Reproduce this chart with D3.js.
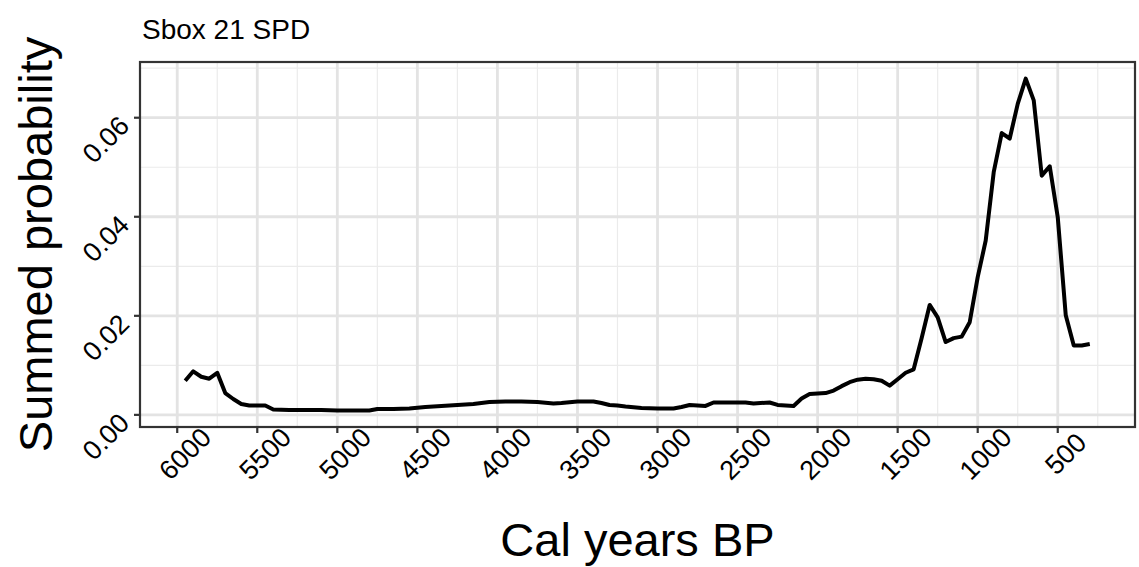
<!DOCTYPE html>
<html>
<head>
<meta charset="utf-8">
<script src="https://cdn.jsdelivr.net/npm/d3@7"></script>
<style>
  html, body { margin: 0; padding: 0; background: #ffffff; }
  svg { display: block; font-family: "Liberation Sans", Arial, sans-serif; }
</style>
</head>
<body>
<svg id="chart" width="1139" height="567"></svg>
<script>
// Summed probability distribution (calibrated years BP)
const years = [5950, 5900, 5850, 5800, 5750, 5700, 5650, 5600, 5550, 5500, 5450, 5400,
  5300, 5200, 5100, 5000, 4900, 4800, 4750, 4650, 4550, 4450, 4350, 4250, 4150, 4050,
  3950, 3850, 3750, 3650, 3600, 3500, 3400, 3350, 3300, 3250, 3200, 3100, 3000, 2900,
  2850, 2800, 2750, 2700, 2650, 2550, 2450, 2400, 2300, 2250, 2200, 2150, 2100, 2050,
  2000, 1950, 1900, 1850, 1800, 1750, 1700, 1650, 1600, 1550, 1500, 1450, 1400, 1350,
  1300, 1250, 1200, 1150, 1100, 1050, 1000, 950, 900, 850, 800, 750, 700, 650, 600,
  550, 500, 450, 400, 350, 300];
const probs = [0.0069, 0.0088, 0.0077, 0.0073, 0.0085, 0.0044, 0.0032, 0.0022, 0.0019,
  0.0019, 0.0019, 0.0011, 0.0010, 0.0010, 0.0010, 0.0009, 0.0009, 0.0009, 0.0012, 0.0012,
  0.0013, 0.0016, 0.0018, 0.0020, 0.0022, 0.0026, 0.0027, 0.0027, 0.0026, 0.0023, 0.0024,
  0.0027, 0.0027, 0.0024, 0.0020, 0.0019, 0.0017, 0.0014, 0.0013, 0.0013, 0.0016, 0.0020,
  0.0019, 0.0018, 0.0025, 0.0025, 0.0025, 0.0023, 0.0025, 0.0020, 0.0019, 0.0018, 0.0033,
  0.0042, 0.0043, 0.0044, 0.0049, 0.0058, 0.0066, 0.0071, 0.0073, 0.0072, 0.0069, 0.0059,
  0.0072, 0.0085, 0.0092, 0.0155, 0.0222, 0.0197, 0.0147, 0.0155, 0.0158, 0.0187, 0.0278,
  0.0352, 0.0490, 0.0569, 0.0558, 0.0628, 0.0679, 0.0635, 0.0483, 0.0502, 0.0399, 0.0201,
  0.0140, 0.0140, 0.0143];

const xTicks = [6000, 5500, 5000, 4500, 4000, 3500, 3000, 2500, 2000, 1500, 1000, 500];
const xMinor = [5750, 5250, 4750, 4250, 3750, 3250, 2750, 2250, 1750, 1250, 750, 250, 0];
const yTicks = [0.00, 0.02, 0.04, 0.06];
const yMinor = [0.01, 0.03, 0.05, 0.07];

const titleText = "Sbox 21 SPD";
const xTitle = "Cal years BP";
const yTitle = "Summed probability";

const W = 1139, H = 567;
const panel = { left: 140, right: 1135, top: 62, bottom: 427 };

const svg = d3.select("#chart");
svg.append("rect").attr("width", W).attr("height", H).attr("fill", "#ffffff");

// 5% padding on both axes, x reversed (older on the left)
const xExt = d3.extent(years), yExt = d3.extent(probs);
const xPad = (xExt[1] - xExt[0]) * 0.05, yPad = (yExt[1] - yExt[0]) * 0.05;
const x = d3.scaleLinear()
  .domain([xExt[1] + xPad, xExt[0] - xPad])
  .range([panel.left, panel.right]);
const y = d3.scaleLinear()
  .domain([yExt[0] - yPad, yExt[1] + yPad])
  .range([panel.bottom, panel.top]);

const g = svg.append("g");

// grid
const grid = g.append("g");
grid.selectAll(".xminor").data(xMinor.filter(v => x(v) > panel.left && x(v) < panel.right))
  .join("line").attr("x1", d => x(d)).attr("x2", d => x(d))
  .attr("y1", panel.top).attr("y2", panel.bottom)
  .attr("stroke", "#ebebeb").attr("stroke-width", 1.2);
grid.selectAll(".yminor").data(yMinor.filter(v => y(v) > panel.top && y(v) < panel.bottom))
  .join("line").attr("x1", panel.left).attr("x2", panel.right)
  .attr("y1", d => y(d)).attr("y2", d => y(d))
  .attr("stroke", "#ebebeb").attr("stroke-width", 1.2);
grid.selectAll(".xmajor").data(xTicks)
  .join("line").attr("x1", d => x(d)).attr("x2", d => x(d))
  .attr("y1", panel.top).attr("y2", panel.bottom)
  .attr("stroke", "#e3e3e3").attr("stroke-width", 2.8);
grid.selectAll(".ymajor").data(yTicks)
  .join("line").attr("x1", panel.left).attr("x2", panel.right)
  .attr("y1", d => y(d)).attr("y2", d => y(d))
  .attr("stroke", "#e3e3e3").attr("stroke-width", 2.8);

// SPD curve
const line = d3.line().x((d, i) => x(years[i])).y(d => y(d));
g.append("path").datum(probs)
  .attr("d", line)
  .attr("fill", "none")
  .attr("stroke", "#000000")
  .attr("stroke-width", 4)
  .attr("stroke-linejoin", "round");

// panel border
g.append("rect")
  .attr("x", panel.left).attr("y", panel.top)
  .attr("width", panel.right - panel.left).attr("height", panel.bottom - panel.top)
  .attr("fill", "none").attr("stroke", "#333333").attr("stroke-width", 2.2);

// x axis ticks and rotated labels
const xAxis = g.append("g");
xAxis.selectAll("line").data(xTicks).join("line")
  .attr("x1", d => x(d)).attr("x2", d => x(d))
  .attr("y1", panel.bottom).attr("y2", panel.bottom + 6)
  .attr("stroke", "#333333").attr("stroke-width", 2.2);
xAxis.selectAll("text").data(xTicks).join("text")
  .attr("transform", d => `translate(${x(d) + 8},${panel.bottom + 27}) rotate(-45)`)
  .attr("text-anchor", "middle")
  .attr("dominant-baseline", "central")
  .attr("font-size", 27)
  .attr("fill", "#000000")
  .text(d => d3.format("d")(d));

// y axis ticks and rotated labels
const yAxis = g.append("g");
yAxis.selectAll("line").data(yTicks).join("line")
  .attr("x1", panel.left - 6).attr("x2", panel.left)
  .attr("y1", d => y(d)).attr("y2", d => y(d))
  .attr("stroke", "#333333").attr("stroke-width", 2.2);
yAxis.selectAll("text").data(yTicks).join("text")
  .attr("transform", d => `translate(${panel.left - 34},${y(d) + 22}) rotate(-45)`)
  .attr("text-anchor", "middle")
  .attr("dominant-baseline", "central")
  .attr("font-size", 27)
  .attr("fill", "#000000")
  .text(d => d3.format(".2f")(d));

// titles
svg.append("text")
  .attr("x", panel.left + 2).attr("y", 39)
  .attr("font-size", 28).attr("fill", "#000000")
  .text(titleText);

svg.append("text")
  .attr("x", (panel.left + panel.right) / 2).attr("y", 556)
  .attr("text-anchor", "middle")
  .attr("font-size", 47).attr("fill", "#000000")
  .text(xTitle);

svg.append("text")
  .attr("transform", `translate(52,${(panel.top + panel.bottom) / 2}) rotate(-90)`)
  .attr("text-anchor", "middle")
  .attr("font-size", 47).attr("fill", "#000000")
  .text(yTitle);
</script>
</body>
</html>
